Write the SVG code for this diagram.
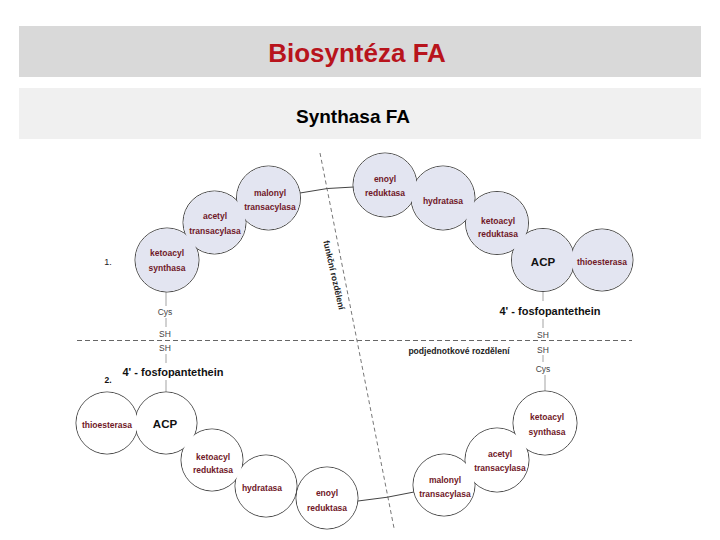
<svg xmlns="http://www.w3.org/2000/svg" xmlns:xlink="http://www.w3.org/1999/xlink" width="720" height="540" viewBox="0 0 720 540">
<style>
.bar1{fill:#d9d9d9}
.bar2{fill:#f0f0f0}
.title{font-family:"Liberation Sans",Arial,sans-serif;font-weight:bold;font-size:26px;fill:#b8141c;text-anchor:middle}
.sub{font-family:"Liberation Sans",Arial,sans-serif;font-weight:bold;font-size:19px;fill:#000;text-anchor:middle}
.ol{fill:none;stroke:#4a4a4a;stroke-width:1}
.f1{fill:#e3e5f1}
.f2{fill:#ffffff}
.lbl{font-family:"Liberation Sans",Arial,sans-serif;font-weight:bold;font-size:8.5px;fill:#701828;text-anchor:middle}
.acp{font-family:"Liberation Sans",Arial,sans-serif;font-weight:bold;font-size:11.5px;fill:#111;text-anchor:middle}
.fp{font-family:"Liberation Sans",Arial,sans-serif;font-weight:bold;font-size:11px;fill:#111;text-anchor:middle}
.sm{font-family:"Liberation Sans",Arial,sans-serif;font-size:8.5px;fill:#444;text-anchor:middle}
.note{font-family:"Liberation Sans",Arial,sans-serif;font-weight:bold;font-size:8.6px;fill:#222;text-anchor:middle}
.stem{stroke:#999;stroke-width:0.9;fill:none}
.dash{stroke:#666;stroke-width:1;fill:none;stroke-dasharray:5 3}
.link{stroke:#444;stroke-width:1;fill:none}
</style>
<rect class="bar1" x="19" y="26" width="682" height="51"/>
<rect class="bar2" x="19" y="88" width="682" height="51"/>
<text class="title" x="357" y="62">Biosyntéza FA</text>
<text class="sub" x="353" y="123">Synthasa FA</text>

<g id="dividers">
<line class="dash" x1="77" y1="340.5" x2="632" y2="340.5"/>
<line class="dash" x1="320" y1="153" x2="394" y2="528" style="stroke:#777;stroke-dasharray:4 3"/>
<text class="note" transform="translate(334,275) rotate(77)" x="0" y="3">funkční rozdělení</text>
<text class="note" x="459" y="354">podjednotkové rozdělení</text>
</g>

<g id="connectors">
<path class="link" d="M300,193 Q328,187 354,187"/>
<path class="link" d="M358,501 Q388,498 414,492"/>
<line class="stem" x1="166" y1="292" x2="166" y2="306"/>
<line class="stem" x1="166" y1="318" x2="166" y2="327"/>
<line class="stem" x1="166" y1="354" x2="166" y2="363"/>
<line class="stem" x1="166" y1="380" x2="166" y2="392"/>
<line class="stem" x1="543" y1="291" x2="543" y2="301"/>
<line class="stem" x1="543" y1="319" x2="543" y2="328"/>
<line class="stem" x1="543" y1="355" x2="543" y2="362"/>
<line class="stem" x1="545" y1="375" x2="545" y2="391"/>
</g>

<g id="outlines">
<circle class="ol" cx="167" cy="260" r="32"/>
<circle class="ol" cx="214.5" cy="222.5" r="31.5"/>
<circle class="ol" cx="268.5" cy="198" r="32"/>
<circle class="ol" cx="385" cy="185" r="32"/>
<circle class="ol" cx="443" cy="198" r="32"/>
<circle class="ol" cx="497" cy="223" r="31.5"/>
<circle class="ol" cx="543" cy="260" r="31.5"/>
<circle class="ol" cx="602" cy="260" r="31"/>
<circle class="ol" cx="107" cy="423" r="31"/>
<circle class="ol" cx="166" cy="423" r="31"/>
<circle class="ol" cx="212" cy="460" r="31"/>
<circle class="ol" cx="266" cy="486" r="31"/>
<circle class="ol" cx="327" cy="498" r="31"/>
<circle class="ol" cx="444" cy="485" r="31"/>
<circle class="ol" cx="497" cy="460" r="32"/>
<circle class="ol" cx="545" cy="423" r="32"/>
</g>

<g id="n1-ketoacyl-synthasa"><circle class="f1" cx="167" cy="260" r="31.4"/><text class="lbl" x="167" y="256">ketoacyl</text><text class="lbl" x="167" y="271">synthasa</text></g>
<g id="n1-acetyl-transacylasa"><circle class="f1" cx="214.5" cy="222.5" r="30.9"/><text class="lbl" x="215" y="219">acetyl</text><text class="lbl" x="215" y="234">transacylasa</text></g>
<g id="n1-malonyl-transacylasa"><circle class="f1" cx="268.5" cy="198" r="31.4"/><text class="lbl" x="270" y="196">malonyl</text><text class="lbl" x="270" y="210">transacylasa</text></g>
<g id="n1-enoyl-reduktasa"><circle class="f1" cx="385" cy="185" r="31.4"/><text class="lbl" x="385" y="182">enoyl</text><text class="lbl" x="385" y="196">reduktasa</text></g>
<g id="n1-hydratasa"><circle class="f1" cx="443" cy="198" r="31.4"/><text class="lbl" x="443" y="203.5">hydratasa</text></g>
<g id="n1-ketoacyl-reduktasa"><circle class="f1" cx="497" cy="223" r="30.9"/><text class="lbl" x="498" y="223.5">ketoacyl</text><text class="lbl" x="498" y="237">reduktasa</text></g>
<g id="n1-acp"><circle class="f1" cx="543" cy="260" r="30.9"/><text class="acp" x="543" y="266">ACP</text></g>
<g id="n1-thioesterasa"><circle class="f1" cx="602" cy="260" r="30.4"/><text class="lbl" x="602" y="264.5">thioesterasa</text></g>

<g id="n2-thioesterasa"><circle class="f2" cx="107" cy="423" r="30.4"/><text class="lbl" x="107" y="428">thioesterasa</text></g>
<g id="n2-acp"><circle class="f2" cx="166" cy="423" r="30.4"/><text class="acp" x="165" y="428">ACP</text></g>
<g id="n2-ketoacyl-reduktasa"><circle class="f2" cx="212" cy="460" r="30.4"/><text class="lbl" x="213" y="460">ketoacyl</text><text class="lbl" x="213" y="473">reduktasa</text></g>
<g id="n2-hydratasa"><circle class="f2" cx="266" cy="486" r="30.4"/><text class="lbl" x="262" y="490.5">hydratasa</text></g>
<g id="n2-enoyl-reduktasa"><circle class="f2" cx="327" cy="498" r="30.4"/><text class="lbl" x="327" y="496">enoyl</text><text class="lbl" x="327" y="511">reduktasa</text></g>
<g id="n2-malonyl-transacylasa"><circle class="f2" cx="444" cy="485" r="30.4"/><text class="lbl" x="445" y="483">malonyl</text><text class="lbl" x="445" y="497">transacylasa</text></g>
<g id="n2-acetyl-transacylasa"><circle class="f2" cx="497" cy="460" r="31.4"/><text class="lbl" x="500" y="457">acetyl</text><text class="lbl" x="500" y="471">transacylasa</text></g>
<g id="n2-ketoacyl-synthasa"><circle class="f2" cx="545" cy="423" r="31.4"/><text class="lbl" x="547" y="420">ketoacyl</text><text class="lbl" x="547" y="435">synthasa</text></g>

<g id="labels">
<text class="sm" x="108" y="265" style="fill:#222;font-size:9px">1.</text>
<text class="sm" x="108" y="383" style="fill:#111;font-weight:bold">2.</text>
<text class="sm" x="165" y="315">Cys</text>
<text class="sm" x="165" y="337">SH</text>
<text class="sm" x="165" y="351">SH</text>
<text class="fp" x="173" y="376">4' - fosfopantethein</text>
<text class="fp" x="550" y="315">4' - fosfopantethein</text>
<text class="sm" x="543" y="338">SH</text>
<text class="sm" x="543" y="353">SH</text>
<text class="sm" x="543" y="372">Cys</text>
</g>
</svg>
